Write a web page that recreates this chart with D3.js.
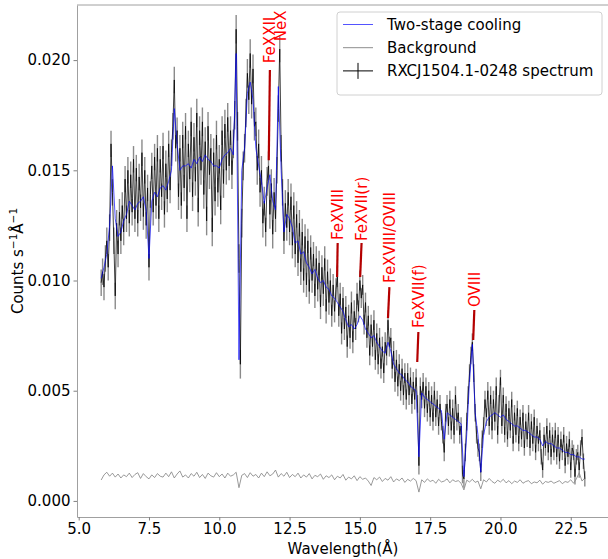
<!DOCTYPE html>
<html>
<head>
<meta charset="utf-8">
<script src="https://cdn.jsdelivr.net/npm/d3@7"></script>
<style>
  body { margin: 0; background: #fff; }
  svg { display: block; font-family: "DejaVu Sans", sans-serif; }
</style>
</head>
<body>
<div id="chart"></div>
<script>
// wavelength grids (Angstrom)
let specStart = 5.8, specStep = 0.05;
let modelStart = 5.8, modelStep = 0.1;

// observed spectrum, counts s^-1 A^-1 in units of 1e-4 (0.05 A bins)
let spectrum = [
  99,104,97,110,
  118,106,124,162,140,118,93,126,112,131,118,134,122,146,128,150,126,148,131,155,
  128,151,126,147,133,158,129,150,125,142,106,139,152,131,156,134,160,128,155,138,
  161,130,153,137,162,141,158,170,191,160,168,138,160,134,166,142,170,128,162,146,
  172,138,165,145,176,131,168,150,172,139,163,127,170,148,160,122,158,136,166,140,
  155,132,168,144,171,150,174,152,168,148,162,175,214,170,110,62,126,152,160,176,
  194,182,203,180,196,170,172,150,162,140,150,126,136,122,145,152,130,144,121,140,
  128,150,178,205,160,140,118,135,124,140,122,138,116,134,112,130,108,126,104,122,
  100,120,98,118,95,115,100,112,93,110,96,108,88,106,94,110,86,104,90,100,
  84,98,86,96,102,84,94,76,92,78,88,70,84,74,90,72,86,78,94,86,
  100,92,98,80,90,74,84,66,80,70,82,64,76,62,74,60,70,58,72,66,
  82,70,74,60,68,54,64,52,62,50,60,48,58,46,58,48,56,44,54,46,
  56,44,16,52,46,54,42,52,40,50,38,48,36,50,38,46,34,44,36,30,
  22,40,44,34,46,32,42,30,48,36,40,30,34,12,10,22,36,48,58,66,
  72,58,40,30,24,22,13,28,34,46,38,50,34,48,32,46,36,52,30,44,
  56,34,48,30,44,28,42,32,46,26,40,30,42,26,38,28,40,24,36,28,
  40,24,36,26,38,22,34,26,32,20,14,30,24,34,22,32,20,30,22,32,
  20,30,18,28,22,30,16,26,20,28,14,24,22,11,20,22,14,24,29,18,
  10
];

// 1-sigma error per 1 A band (5..23 A), units of 1e-4
let errLevel = [6,6,6,6,6.5,6.5,6.5,6,5.5,5,4.5,4.5,4,4,4,3.5,3.5,3.5,3.5];

// two-stage cooling model, units of 1e-4 (0.1 A grid)
let model = [
  101,106,
  112,125,152,128,120,122,127,130,136,134,
  132,135,136,138,132,110,136,140,138,142,
  143,141,145,150,178,162,150,152,152,153,
  151,155,153,156,154,157,155,154,152,152,
  151,155,157,158,160,157,203,64,150,160,
  185,190,182,160,152,145,135,142,148,136,
  132,188,150,122,130,128,124,117,118,112,
  113,108,106,103,105,101,99,100,97,96,
  93,92,90,88,86,82,79,80,78,80,
  84,82,78,76,74,75,72,70,68,67,
  72,68,62,60,58,57,55,54,52,51,
  50,20,49,47,46,45,44,43,42,41,
  28,40,39,38,37,36,35,11,30,55,
  71,40,30,13,30,36,38,39,40,39,
  38,39,37,36,35,34,34,33,32,32,
  31,30,29,29,28,25,27,26,26,25,
  24,24,23,22,22,21,21,20,20,19,
  19
];

// background, units of 1e-5 (0.1 A grid)
let background = [
  95,118,
  130,112,126,108,122,104,118,110,126,106,
  120,128,102,124,110,100,118,106,124,112,
  108,126,110,132,104,122,136,108,118,104,
  124,112,130,106,120,102,126,114,108,128,
  110,122,104,126,112,118,130,60,116,124,
  106,128,112,120,104,126,110,132,114,122,
  140,108,124,112,130,106,120,110,126,104,
  118,108,124,100,116,110,122,98,114,106,
  118,96,112,104,120,94,108,100,114,92,
  110,98,104,90,70,106,96,108,88,102,
  94,110,86,100,92,104,84,98,90,102,
  92,40,96,84,100,88,94,80,98,86,
  90,100,82,96,88,92,80,50,94,86,
  98,84,90,55,96,86,102,88,80,94,
  86,98,82,92,78,90,84,96,80,88,
  92,78,86,82,94,76,88,84,90,80,
  86,92,78,88,84,96,80,100,128,90,
  104
];

// line identifications
let lineNames = ["FeXXII", "NeX", "FeXVIII", "FeXVII(r)", "FeXVIII/OVIII", "FeXVII(f)", "OVIII"];
let lineTextWave = [11.80, 12.19, 14.21, 15.06, 16.05, 17.08, 19.07];
let linePointWave = [11.76, 12.15, 14.19, 15.01, 16.00, 17.04, 19.03];
let lineTextY = [0.01986, 0.02086, 0.01184, 0.01179, 0.00989, 0.00785, 0.00880];
let lineTop = [0.01955, null, 0.01170, 0.01170, 0.00970, 0.00766, 0.00866];
let lineBottom = [0.01546, null, 0.01016, 0.01016, 0.00830, 0.00630, 0.00730];

let xTicks = [5.0, 7.5, 10.0, 12.5, 15.0, 17.5, 20.0, 22.5];
let yTicks = [0.000, 0.005, 0.010, 0.015, 0.020];

let legendLabels = ["Two-stage cooling", "Background", "RXCJ1504.1-0248 spectrum"];

let margin = { top: 5, left: 77, right: 0, bottom: 42 };
let width = 532;
let height = 512;

let svg = d3.select("#chart").append("svg")
    .attr("width", 608)
    .attr("height", 559);

let group = svg.append("g")
    .attr("transform", "translate(" + margin.left + "," + margin.top + ")");

let x = d3.scaleLinear()
    .domain([4.94, 23.86])
    .range([0, width]);

let y = d3.scaleLinear()
    .domain([-0.00073, 0.0225])
    .range([height, 0]);

let specData = spectrum.map((v, i) => {
    let w = specStart + i * specStep;
    let e = errLevel[Math.floor(w + 1e-6) - 5] * 1e-4;
    return { w: w, v: v * 1e-4, e: e };
});
let modelData = model.map((v, i) => ({ w: modelStart + i * modelStep, v: v * 1e-4 }));
let bgData = background.map((v, i) => ({ w: modelStart + i * modelStep, v: v * 1e-5 }));

let line = d3.line()
    .x(d => x(d.w))
    .y(d => y(d.v));

// background
group.append("path")
    .datum(bgData)
    .attr("d", line)
    .attr("fill", "none")
    .attr("stroke", "#808080")
    .attr("stroke-width", 0.8);

// error bars
group.selectAll(".err")
    .data(specData)
    .enter()
    .append("line")
    .attr("class", "err")
    .attr("x1", d => x(d.w))
    .attr("x2", d => x(d.w))
    .attr("y1", d => y(d.v - d.e))
    .attr("y2", d => y(d.v + d.e))
    .attr("stroke", "#8a8a8a")
    .attr("stroke-width", 1.4);

// spectrum
group.append("path")
    .datum(specData)
    .attr("d", line)
    .attr("fill", "none")
    .attr("stroke", "#000")
    .attr("stroke-width", 0.75);

// model
group.append("path")
    .datum(modelData)
    .attr("d", line)
    .attr("fill", "none")
    .attr("stroke", "#0000ff")
    .attr("stroke-opacity", 0.75)
    .attr("stroke-width", 0.9);

// axes
let xAxis = d3.axisBottom(x)
    .tickValues(xTicks)
    .tickFormat(d3.format(".1f"))
    .tickSize(3.5)
    .tickPadding(3)
    .tickSizeOuter(0);

let yAxis = d3.axisLeft(y)
    .tickValues(yTicks)
    .tickFormat(d3.format(".3f"))
    .tickSize(3.5)
    .tickPadding(3)
    .tickSizeOuter(0);

let xAxisGroup = group.append("g")
    .attr("class", "x-axis axis")
    .attr("transform", "translate(0," + height + ")")
    .call(xAxis);

let yAxisGroup = group.append("g")
    .attr("class", "y-axis axis")
    .call(yAxis);

[xAxisGroup, yAxisGroup].forEach(g => {
    g.select(".domain").attr("stroke", "#a0a0a0");
    g.selectAll(".tick line").attr("stroke", "#808080");
    g.selectAll(".tick text")
        .attr("fill", "#000")
        .style("font-size", "15px")
        .style("font-family", "DejaVu Sans");
});

// top spine
group.append("line")
    .attr("x1", 0).attr("x2", width)
    .attr("y1", 0).attr("y2", 0)
    .attr("stroke", "#a0a0a0");

// axis labels
svg.append("text")
    .attr("x", margin.left + width / 2)
    .attr("y", 554)
    .attr("text-anchor", "middle")
    .style("font-size", "15px")
    .text("Wavelength(Å)");

let yLabel = svg.append("text")
    .attr("transform", "translate(18," + (margin.top + height / 2) + ") rotate(-90)")
    .attr("text-anchor", "middle")
    .attr("dy", "0.35em")
    .style("font-size", "15px");
yLabel.append("tspan").text("Counts s");
yLabel.append("tspan").attr("baseline-shift", "super").style("font-size", "10.5px").text("−1");
yLabel.append("tspan").text("Å");
yLabel.append("tspan").attr("baseline-shift", "super").style("font-size", "10.5px").text("−1");

// line identifications
lineNames.forEach((name, i) => {
    group.append("text")
        .attr("transform", "translate(" + x(lineTextWave[i]) + "," + y(lineTextY[i]) + ") rotate(-90)")
        .attr("dy", "0.36em")
        .attr("fill", "#ff0000")
        .style("font-size", "15px")
        .text(name);
    if (lineTop[i] !== null) {
        group.append("line")
            .attr("x1", x(lineTextWave[i]))
            .attr("y1", y(lineTop[i]))
            .attr("x2", x(linePointWave[i]))
            .attr("y2", y(lineBottom[i]))
            .attr("stroke", "#b40000")
            .attr("stroke-width", 2.2);
    }
});

// legend
let legend = svg.append("g")
    .attr("transform", "translate(337,12)");

legend.append("rect")
    .attr("width", 265)
    .attr("height", 83)
    .attr("rx", 3)
    .attr("fill", "#fff")
    .attr("fill-opacity", 0.85)
    .attr("stroke", "#d0d0d0");

let legendStroke = ["#0000ff", "#808080", "#000"];
let legendOpacity = [0.75, 1, 1];

legendLabels.forEach((label, i) => {
    let ly = 12.5 + i * 23.2;
    legend.append("line")
        .attr("x1", 6).attr("x2", 36)
        .attr("y1", ly).attr("y2", ly)
        .attr("stroke", legendStroke[i])
        .attr("stroke-opacity", legendOpacity[i])
        .attr("stroke-width", i === 2 ? 1 : 0.9);
    if (i === 2) {
        legend.append("line")
            .attr("x1", 21).attr("x2", 21)
            .attr("y1", ly - 8).attr("y2", ly + 8)
            .attr("stroke", "#000")
            .attr("stroke-width", 1);
    }
    legend.append("text")
        .attr("x", 50)
        .attr("y", ly)
        .attr("dy", "0.36em")
        .style("font-size", "15px")
        .text(label);
});
</script>
</body>
</html>
